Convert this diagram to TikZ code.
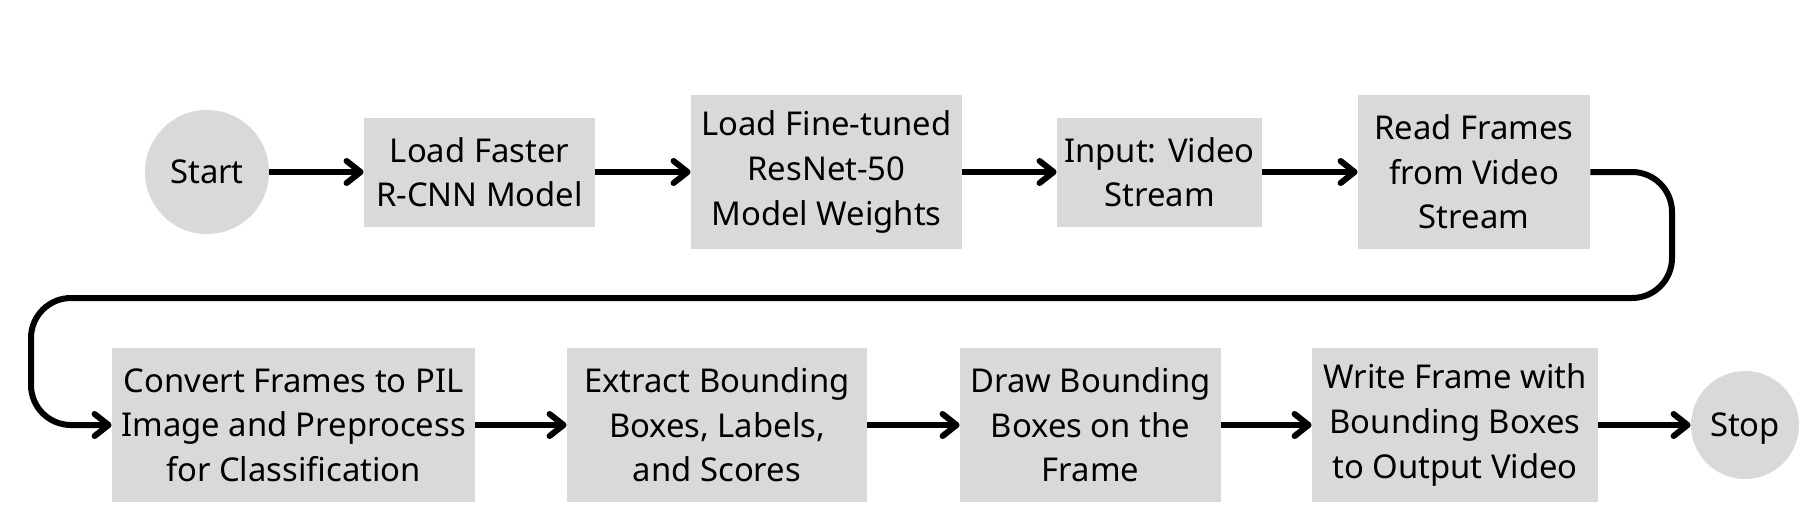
\documentclass[tikz,border=0pt]{standalone}
\usepackage{fontspec}
\setmainfont{Noto Sans}
\usepackage{tikz}
\usepackage{xcolor}
\usetikzlibrary{arrows.meta}

\definecolor{boxgray}{HTML}{D9D9D9}
\tikzset{
  stepbox/.style={fill=boxgray, align=center, inner sep=0pt,
    font=\fontsize{16.4}{22.3}\selectfont},
  term/.style={circle, fill=boxgray, inner sep=0pt, text depth=0pt,
    font=\fontsize{16.4}{22.3}\selectfont},
  flow/.style={line width=3pt, line join=round,
    -{Straight Barb[length=7pt, width=11pt, round]}}
}

\begin{document}
\begin{tikzpicture}[x=0.5pt, y=-0.5pt]
          \useasboundingbox (0,0) rectangle (1816,521);

          % top row
          \node[term, minimum size=62pt] (start) at (207,172) {Start};
          \node[stepbox, minimum width=115.5pt, minimum height=54.5pt] (faster) at (479.5,172) {Load Faster\\R-CNN Model};
          \node[stepbox, minimum width=135.5pt, minimum height=77pt] (weights) at (826.5,172) {Load Fine-tuned\\ResNet-50\\Model Weights};
          \node[stepbox, minimum width=102.5pt, minimum height=54.5pt] (input) at (1159.5,172) {Input: Video\\Stream};
          \node[stepbox, minimum width=116pt, minimum height=77pt] (frames) at (1474,172) {Read Frames\\from Video\\Stream};

          % bottom row
          \node[stepbox, minimum width=181.5pt, minimum height=77pt] (convert) at (293.5,425) {Convert Frames to PIL\\Image and Preprocess\\for Classification};
          \node[stepbox, minimum width=150pt, minimum height=77pt] (extract) at (717,425) {Extract Bounding\\Boxes, Labels,\\and Scores};
          \node[stepbox, minimum width=130.5pt, minimum height=77pt] (drawbox) at (1090.5,425) {Draw Bounding\\Boxes on the\\Frame};
          \node[stepbox, minimum width=143pt, minimum height=77pt] (write) at (1455,425) {Write Frame with\\Bounding Boxes\\to Output Video};
          \node[term, minimum size=54pt] (stop) at (1745,425) {Stop};

          \draw[flow] (start) -- (faster);
          \draw[flow] (faster) -- (weights);
          \draw[flow] (weights) -- (input);
          \draw[flow] (input) -- (frames);
          \draw[flow, rounded corners=20pt] (frames.east) -- (1672,172) -- (1672,298) -- (31,298) -- (31,425) -- (convert.west);
          \draw[flow] (convert) -- (extract);
          \draw[flow] (extract) -- (drawbox);
          \draw[flow] (drawbox) -- (write);
          \draw[flow] (write) -- (stop);
        \end{tikzpicture}
\end{document}
